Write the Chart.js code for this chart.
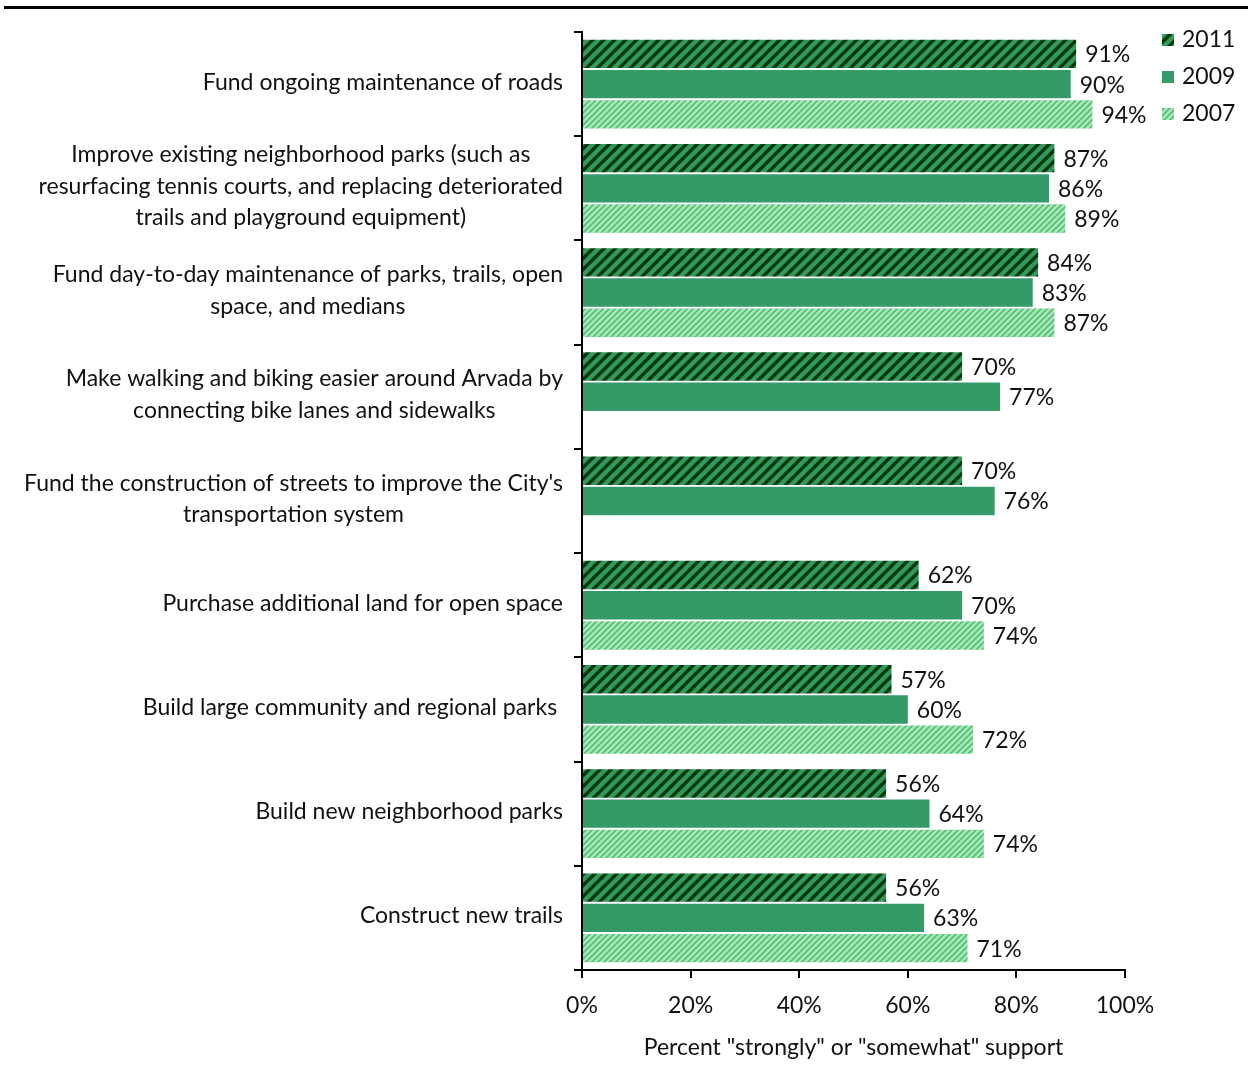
<!DOCTYPE html>
<html>
<head>
<meta charset="utf-8">
<script src="https://cdn.jsdelivr.net/npm/chart.js@4.4.1/dist/chart.umd.min.js"></script>
<style>
  html, body { margin: 0; padding: 0; background: #ffffff; }
  #wrap { width: 1248px; height: 1078px; position: relative; }
</style>
</head>
<body>
<div id="wrap"><canvas id="c" width="1248" height="1078"></canvas></div>
<script>
const categories = [
  ["Fund ongoing maintenance of roads"],
  ["Improve existing neighborhood parks (such as", "resurfacing tennis courts, and replacing deteriorated", "trails and playground equipment)"],
  ["Fund day-to-day maintenance of parks, trails, open", "space, and medians"],
  ["Make walking and biking easier around Arvada by", "connecting bike lanes and sidewalks"],
  ["Fund the construction of streets to improve the City's", "transportation system"],
  ["Purchase additional land for open space"],
  ["Build large community and regional parks "],
  ["Build new neighborhood parks"],
  ["Construct new trails"]
];
const seriesNames = ["2011", "2009", "2007"];
const values2011 = [91, 87, 84, 70, 70, 62, 57, 56, 56];
const values2009 = [90, 86, 83, 77, 76, 70, 60, 64, 63];
const values2007 = [94, 89, 87, null, null, 74, 72, 74, 71];
const xTickValues = [0, 20, 40, 60, 80, 100];
const axisTitle = 'Percent "strongly" or "somewhat" support';

const FONT = "Lato, 'Open Sans', sans-serif";
const FS = 23;

function makePattern(size, bg, fg, lw) {
  const c = document.createElement('canvas');
  c.width = size; c.height = size;
  const x = c.getContext('2d');
  x.fillStyle = bg; x.fillRect(0, 0, size, size);
  x.strokeStyle = fg; x.lineWidth = lw;
  x.beginPath();
  x.moveTo(-size, size); x.lineTo(size, -size);
  x.moveTo(-1, size + 1); x.lineTo(size + 1, -1);
  x.moveTo(0, 2 * size); x.lineTo(2 * size, 0);
  x.stroke();
  return x.createPattern(c, 'repeat');
}
const ctx0 = document.getElementById('c').getContext('2d');
const pat2011 = makePattern(11, '#023a08', '#33985f', 4.4);
const solid2009 = '#349a68';
const pat2007 = makePattern(6, '#b0ecbb', '#5fc283', 2.2);

const colors = [pat2011, solid2009, pat2007];

const valueLabels = {
  id: 'valueLabels',
  afterDatasetsDraw(chart) {
    const ctx = chart.ctx;
    ctx.save();
    ctx.font = FS + 'px ' + FONT;
    ctx.fillStyle = '#111';
    ctx.textBaseline = 'middle';
    ctx.textAlign = 'left';
    chart.data.datasets.forEach((ds, di) => {
      const meta = chart.getDatasetMeta(di);
      meta.data.forEach((el, i) => {
        const v = ds.data[i];
        if (v === null || v === undefined) return;
        ctx.fillText(v + '%', el.x + 9, el.y + 1);
      });
    });
    ctx.restore();
  }
};

const catLabels = {
  id: 'catLabels',
  afterDraw(chart) {
    const ctx = chart.ctx;
    const ys = chart.scales.y;
    const right = chart.chartArea.left - 19;
    ctx.save();
    ctx.font = FS + 'px ' + FONT;
    ctx.fillStyle = '#111';
    ctx.textBaseline = 'middle';
    ctx.textAlign = 'left';
    const lh = 31.5;
    const sp = ctx.measureText(' ').width;
    const fullW = l => ctx.measureText(l.trimEnd()).width + (l.endsWith(' ') ? sp : 0);
    categories.forEach((lines, i) => {
      const cy = ys.getPixelForValue(i);
      let maxW = 0;
      lines.forEach(l => { maxW = Math.max(maxW, fullW(l)); });
      const cx = right - maxW / 2;
      const y0 = cy - (lines.length - 1) * lh / 2;
      lines.forEach((l, k) => {
        ctx.fillText(l.trimEnd(), cx - fullW(l) / 2, y0 + k * lh - 2);
      });
    });
    ctx.restore();
  }
};

const decor = {
  id: 'decor',
  afterDraw(chart) {
    const ctx = chart.ctx;
    ctx.save();
    ctx.fillStyle = '#000';
    ctx.fillRect(4, 6, 1244, 3);
    ctx.font = FS + 'px ' + FONT;
    ctx.textBaseline = 'middle';
    ctx.textAlign = 'left';
    const ly = [40, 77, 114];
    seriesNames.forEach((n, i) => {
      ctx.fillStyle = colors[i];
      ctx.fillRect(1162, ly[i] - 6, 12, 12);
      ctx.fillStyle = '#111';
      ctx.fillText(n, 1182, ly[i]);
    });
    ctx.restore();
  }
};

new Chart(ctx0, {
  type: 'bar',
  data: {
    labels: categories.map(c => c.join(' ')),
    datasets: [
      { label: seriesNames[0], data: values2011, backgroundColor: colors[0] },
      { label: seriesNames[1], data: values2009, backgroundColor: colors[1] },
      { label: seriesNames[2], data: values2007, backgroundColor: colors[2] }
    ]
  },
  options: {
    indexAxis: 'y',
    responsive: false,
    animation: false,
    devicePixelRatio: 1,
    layout: { padding: { left: 0, right: 123, top: 32, bottom: 8 } },
    datasets: { bar: { categoryPercentage: 0.87, barPercentage: 0.94, borderWidth: 0 } },
    plugins: { legend: { display: false }, tooltip: { enabled: false } },
    scales: {
      y: {
        type: 'category',
        offset: true,
        border: { display: true, color: '#000', width: 2 },
        grid: { display: true, drawOnChartArea: false, drawTicks: true, tickLength: 8, color: '#000', lineWidth: 2, offset: true },
        ticks: { display: false },
        afterFit(scale) { scale.width = 582; }
      },
      x: {
        type: 'linear',
        min: 0, max: 100,
        afterBuildTicks(scale) { scale.ticks = xTickValues.map(v => ({ value: v })); },
        border: { display: true, color: '#000', width: 2 },
        grid: { display: true, drawOnChartArea: false, drawTicks: true, tickLength: 8, color: '#000', lineWidth: 2 },
        ticks: {
          color: '#111',
          font: { family: FONT, size: FS },
          padding: 14,
          maxRotation: 0,
          callback: v => v + '%'
        },
        title: {
          display: true,
          text: axisTitle,
          color: '#111',
          font: { family: FONT, size: FS },
          padding: { top: 0, bottom: 9 }
        },
        afterFit(scale) { scale.height = 100; }
      }
    }
  },
  plugins: [valueLabels, catLabels, decor]
});
</script>
</body>
</html>
